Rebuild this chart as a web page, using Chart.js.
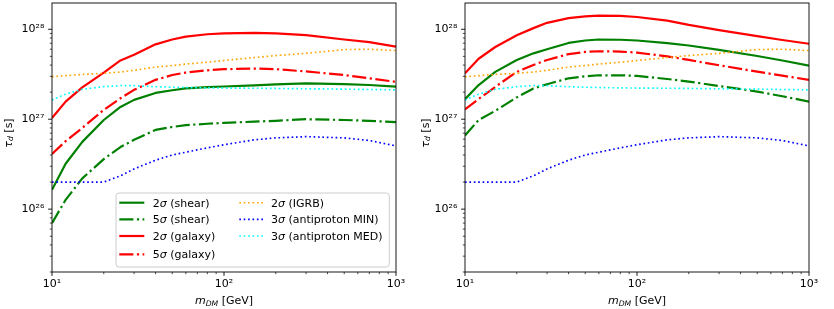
<!DOCTYPE html>
<html><head><meta charset="utf-8">
<script src="https://cdn.jsdelivr.net/npm/chart.js@4.4.0/dist/chart.umd.min.js"></script>
<style>
html,body{margin:0;padding:0;background:#fff;}
#wrap{position:relative;width:834px;height:309px;overflow:hidden;background:#fff;}
canvas{position:absolute;top:0;}
</style></head><body>
<div id="wrap">
<canvas id="c1" width="417" height="309" style="left:0;width:417px;height:309px"></canvas>
<canvas id="c2" width="417" height="309" style="left:417px;width:417px;height:309px"></canvas>
</div>
<script>
// ---------------- data ----------------
const masses = [10, 12, 15, 20, 25, 30, 40, 50, 60, 80, 100, 150, 200, 300, 500, 700, 1000];
const xTickValues = [10, 100, 1000];
const yTickValues = [1e26, 1e27, 1e28];
const seriesLabels = ['2σ (shear)', '5σ (shear)', '2σ (galaxy)', '5σ (galaxy)', '2σ (IGRB)', '3σ (antiproton MIN)', '3σ (antiproton MED)'];

// left panel
const leftShear2 = [1.64e26, 3.2e26, 5.6e26, 9.8e26, 1.37e27, 1.64e27, 1.96e27, 2.1e27, 2.2e27, 2.27e27, 2.31e27, 2.38e27, 2.44e27, 2.5e27, 2.46e27, 2.4e27, 2.3e27];
const leftShear5 = [7.0e25, 1.27e26, 2.2e26, 3.6e26, 4.9e26, 5.9e26, 7.6e26, 8.2e26, 8.6e26, 8.9e26, 9.1e26, 9.4e26, 9.6e26, 1.0e27, 9.8e26, 9.6e26, 9.3e26];
const leftGalaxy2 = [1.03e27, 1.57e27, 2.26e27, 3.3e27, 4.5e27, 5.2e27, 6.8e27, 7.7e27, 8.3e27, 8.8e27, 9.0e27, 9.1e27, 9.0e27, 8.6e27, 7.7e27, 7.2e27, 6.4e27];
const leftGalaxy5 = [4.1e26, 5.7e26, 8.0e26, 1.27e27, 1.71e27, 2.12e27, 2.74e27, 3.1e27, 3.3e27, 3.5e27, 3.6e27, 3.66e27, 3.6e27, 3.4e27, 3.1e27, 2.85e27, 2.6e27];
// right panel
const rightShear2 = [1.67e27, 2.4e27, 3.36e27, 4.56e27, 5.4e27, 6.0e27, 7.05e27, 7.5e27, 7.7e27, 7.65e27, 7.5e27, 7.0e27, 6.6e27, 5.9e27, 5.05e27, 4.5e27, 3.95e27];
const rightShear5 = [6.6e26, 9.8e26, 1.24e27, 1.75e27, 2.2e27, 2.45e27, 2.85e27, 3.0e27, 3.08e27, 3.08e27, 3.03e27, 2.8e27, 2.62e27, 2.34e27, 2.03e27, 1.8e27, 1.57e27];
const rightGalaxy2 = [3.24e27, 4.7e27, 6.35e27, 8.6e27, 1.03e28, 1.18e28, 1.33e28, 1.39e28, 1.42e28, 1.41e28, 1.37e28, 1.25e28, 1.12e28, 9.8e27, 8.4e27, 7.6e27, 6.9e27];
const rightGalaxy5 = [1.29e27, 1.68e27, 2.29e27, 3.36e27, 4.0e27, 4.56e27, 5.3e27, 5.6e27, 5.7e27, 5.65e27, 5.5e27, 5.0e27, 4.56e27, 3.98e27, 3.38e27, 3.05e27, 2.74e27];
// shared constraints (both panels)
const igrb2 = [2.97e27, 3.05e27, 3.15e27, 3.24e27, 3.35e27, 3.5e27, 3.8e27, 3.95e27, 4.1e27, 4.3e27, 4.5e27, 4.85e27, 5.1e27, 5.4e27, 5.95e27, 6.0e27, 5.8e27];
const antiprotonMin3 = [2.0e26, 2.0e26, 2.0e26, 2.0e26, 2.35e26, 2.8e26, 3.5e26, 4.0e26, 4.3e26, 4.8e26, 5.2e26, 5.9e26, 6.2e26, 6.4e26, 6.2e26, 5.8e26, 5.05e26];
const antiprotonMed3 = [1.64e27, 1.9e27, 2.15e27, 2.3e27, 2.37e27, 2.36e27, 2.3e27, 2.27e27, 2.25e27, 2.23e27, 2.22e27, 2.21e27, 2.2e27, 2.18e27, 2.16e27, 2.14e27, 2.12e27];

// ---------------- styles ----------------
const DASHDOT = [14.1, 3.5, 2.2, 3.5];
const DOTTED = [1.65, 2.75];
const styles = [
  {color: '#008000', dash: [], width: 2.2},
  {color: '#008000', dash: DASHDOT, width: 2.2},
  {color: '#ff0000', dash: [], width: 2.2},
  {color: '#ff0000', dash: DASHDOT, width: 2.2},
  {color: '#ffa500', dash: DOTTED, width: 1.65},
  {color: '#0000ff', dash: DOTTED, width: 1.65},
  {color: '#00ffff', dash: DOTTED, width: 1.65}
];
const FONT = '"DejaVu Sans", "Liberation Sans", sans-serif';

function sup(n) {
  const m = '⁰¹²³⁴⁵⁶⁷⁸⁹';
  return String(n).split('').map(c => c === '-' ? '⁻' : m[+c]).join('');
}
function decomp(v) {
  const e = Math.floor(Math.log10(v) + 1e-9);
  return {e: e, s: v / Math.pow(10, e)};
}
function isMajor(v) { return Math.abs(decomp(v).s - 1) < 1e-6; }
function isInt(v) { const s = decomp(v).s; return Math.abs(s - Math.round(s)) < 1e-6; }
function tickLabel(v) { return isMajor(v) ? '10' + sup(decomp(v).e) : ''; }

function richText(ctx, parts, x, y, align) {
  let total = 0;
  parts.forEach(p => { ctx.font = p.font; total += ctx.measureText(p.t).width; });
  let cx = align === 'center' ? x - total / 2 : x;
  ctx.textBaseline = 'alphabetic';
  ctx.textAlign = 'left';
  parts.forEach(p => {
    ctx.font = p.font;
    ctx.fillText(p.t, cx, y + (p.dy || 0));
    cx += ctx.measureText(p.t).width;
  });
}
function sigmaParts(label) {
  const i = label.indexOf('σ');
  return [
    {t: label.slice(0, i), font: '11px ' + FONT},
    {t: 'σ', font: 'italic 11px ' + FONT},
    {t: label.slice(i + 1), font: '11px ' + FONT}
  ];
}

const deco = {
  id: 'deco',
  afterDraw(chart, args, opts) {
    const ctx = chart.ctx, a = chart.chartArea;
    const xs = chart.scales.x, ys = chart.scales.y;
    ctx.save();
    ctx.strokeStyle = '#000';
    ctx.setLineDash([]);
    // y tick marks
    ys.ticks.forEach(t => {
      const v = t.value;
      if (!isInt(v) || v < ys.min * 0.999 || v > ys.max * 1.001) return;
      const maj = isMajor(v);
      const p = ys.getPixelForValue(v);
      ctx.lineWidth = maj ? 0.9 : 0.7;
      ctx.beginPath(); ctx.moveTo(a.left, p); ctx.lineTo(a.left - (maj ? 3.9 : 2.2), p); ctx.stroke();
    });
    xs.ticks.forEach(t => {
      const v = t.value;
      if (!isInt(v) || v < xs.min * 0.999 || v > xs.max * 1.001) return;
      const maj = isMajor(v);
      const p = xs.getPixelForValue(v);
      ctx.lineWidth = maj ? 0.9 : 0.7;
      ctx.beginPath(); ctx.moveTo(p, a.bottom); ctx.lineTo(p, a.bottom + (maj ? 3.9 : 2.2)); ctx.stroke();
    });
    // frame
    ctx.lineWidth = 0.9;
    ctx.strokeRect(a.left, a.top, a.right - a.left, a.bottom - a.top);
    // axis titles
    ctx.fillStyle = '#000';
    richText(ctx, [
      {t: 'm', font: 'italic 11px ' + FONT},
      {t: 'DM', font: 'italic 7.7px ' + FONT, dy: 1.8},
      {t: ' [GeV]', font: '11px ' + FONT}
    ], (a.left + a.right) / 2, 304.3, 'center');
    ctx.save();
    ctx.translate(opts.ylabelX, 133);
    ctx.rotate(-Math.PI / 2);
    richText(ctx, [
      {t: 'τ', font: 'italic 11px ' + FONT},
      {t: 'd', font: 'italic 7.7px ' + FONT, dy: 1.8},
      {t: ' [s]', font: '11px ' + FONT}
    ], 0, 0, 'center');
    ctx.restore();
    // legend
    if (opts.legend) {
      const L = opts.legend;
      ctx.beginPath();
      ctx.roundRect(L.x0, L.y0, L.x1 - L.x0, L.y1 - L.y0, 3);
      ctx.fillStyle = 'rgba(255,255,255,0.8)';
      ctx.fill();
      ctx.strokeStyle = '#cccccc';
      ctx.lineWidth = 1;
      ctx.stroke();
      const ds = chart.data.datasets;
      ds.forEach((d, i) => {
        const col = i < 4 ? 0 : 1;
        const row = i < 4 ? i : i - 4;
        const y = L.rows[row];
        const hx0 = L.cols[col][0], hx1 = L.cols[col][1], tx = L.cols[col][2];
        ctx.strokeStyle = d.borderColor;
        ctx.lineWidth = d.borderWidth;
        ctx.setLineDash(d.borderDash || []);
        ctx.beginPath(); ctx.moveTo(hx0, y); ctx.lineTo(hx1, y); ctx.stroke();
        ctx.setLineDash([]);
        ctx.fillStyle = '#000';
        richText(ctx, sigmaParts(d.label), tx, y + 3.8, 'left');
      });
    }
    ctx.restore();
  }
};

function makeDatasets(cols) {
  return cols.map((vals, i) => ({
    label: seriesLabels[i],
    data: masses.map((m, j) => ({x: m, y: vals[j]})),
    borderColor: styles[i].color,
    backgroundColor: styles[i].color,
    borderDash: styles[i].dash,
    borderWidth: styles[i].width,
    borderCapStyle: 'butt',
    borderJoinStyle: 'round',
    pointRadius: 0,
    tension: 0,
    fill: false,
    order: cols.length - i
  }));
}

function makeChart(id, cols, yWidth, padRight, ylabelX, legend) {
  return new Chart(document.getElementById(id), {
    type: 'line',
    data: {datasets: makeDatasets(cols)},
    options: {
      responsive: false,
      animation: false,
      devicePixelRatio: 1,
      layout: {padding: {left: 0, right: padRight, top: 3, bottom: 0}},
      plugins: {
        legend: {display: false},
        tooltip: {enabled: false},
        deco: {legend: legend, ylabelX: ylabelX}
      },
      scales: {
        x: {
          type: 'logarithmic', min: xTickValues[0], max: xTickValues[xTickValues.length - 1],
          grid: {display: false, drawTicks: false},
          border: {display: false},
          afterFit: s => { s.height = 37; s.paddingLeft = 0; s.paddingRight = 0; },
          ticks: {autoSkip: false, maxRotation: 0, padding: 6, color: '#000',
            font: {family: FONT, size: 11}, callback: v => tickLabel(v)}
        },
        y: {
          type: 'logarithmic', min: 2.0e25, max: 1.96e28,
          grid: {display: false, drawTicks: false},
          border: {display: false},
          afterFit: s => { s.width = yWidth; s.paddingTop = 0; s.paddingBottom = 0; },
          ticks: {autoSkip: false, padding: 7.7, color: '#000',
            font: {family: FONT, size: 11}, callback: v => tickLabel(v)}
        }
      }
    },
    plugins: [deco]
  });
}

const legendBox = {
  x0: 116, y0: 193, x1: 389.3, y1: 267,
  rows: [202.7, 219.3, 236, 254.3],
  cols: [[119.3, 144.3, 152.7], [239.3, 263.3, 271]]
};

makeChart('c1', [leftShear2, leftShear5, leftGalaxy2, leftGalaxy5, igrb2, antiprotonMin3, antiprotonMed3], 52, 21, 11.5, legendBox);
makeChart('c2', [rightShear2, rightShear5, rightGalaxy2, rightGalaxy5, igrb2, antiprotonMin3, antiprotonMed3], 48, 25, 11.5, null);
</script>
</body></html>
